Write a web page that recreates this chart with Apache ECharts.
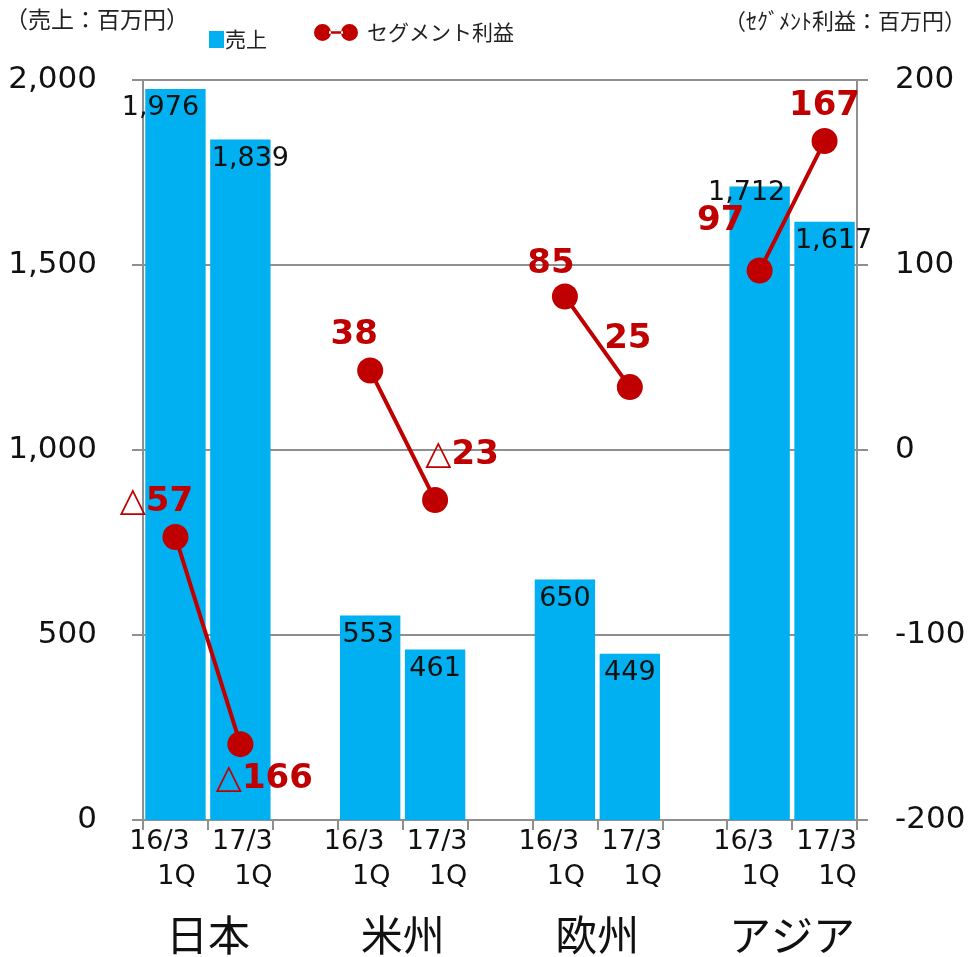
<!DOCTYPE html>
<html>
<head>
<meta charset="utf-8">
<script src="https://cdn.jsdelivr.net/npm/echarts@6/dist/echarts.min.js"></script>
<style>
  html, body { margin: 0; padding: 0; background: #fff; }
  #chart { width: 973px; height: 957px; }
</style>
</head>
<body>
<div id="chart"></div>
<script>
'use strict';
// 区分：各地域 16/3 1Q, 17/3 1Q（地域の間は空欄）
const categories = ['16/3', '17/3', '', '16/3', '17/3', '', '16/3', '17/3', '', '16/3', '17/3'];
const regions = ['', '日本', '', '', '米州', '', '', '欧州', '', '', 'アジア', ''];
// 売上（百万円）
const sales = [1976, 1839, null, 553, 461, null, 650, 449, null, 1712, 1617];
// セグメント利益（図上の位置から読み取り）
const profit = [-47, -159, null, 43, -27, null, 83, 34, null, 97, 167];
const profitLabels = ['△57', '△166', '', '38', '△23', '', '85', '25', '', '97', '167'];
const leftTicks = [0, 2000, 500];
const rightTicks = [-200, 200, 100];

const FONT = '"DejaVu Sans", "Noto Sans CJK JP", sans-serif';
const JP = '"Noto Sans CJK JP", sans-serif';
const BLUE = '#00B0F0';
const RED = '#C00000';
const GRAY = '#8f8f8f';

// ラベルの置き場所（系列の値とは別）
const barLabelShift = [[-15, 0], [10, 0], null, [-2, 0], [0, 0], null, [0, 0], [0, 0], null, [-13, -13], [9, 0]];
const labelPlace = [
    { position: 'top', offset: [-19, 0] },
    { position: 'bottom', offset: [24, 0] },
    null,
    { position: 'top', offset: [-16, 0] },
    { position: 'top', offset: [27, -10] },
    null,
    { position: 'top', offset: [-14, 3] },
    { position: 'top', offset: [-2, -13] },
    null,
    { position: 'top', offset: [-39, -14] },
    { position: 'top', offset: [0, 0] },
];

function init() {
    const chart = echarts.init(document.getElementById('chart'));

    const salesData = sales.map((v, i) => {
        if (v === null) return null;
        return { value: v, label: { offset: barLabelShift[i] } };
    });

    const profitData = profit.map((v, i) => {
        if (v === null) return null;
        const txt = profitLabels[i].replace('△', '{t|△}');
        return {
            value: v,
            label: Object.assign({ formatter: txt }, labelPlace[i]),
        };
    });

    const option = {
        animation: false,
        title: [
            {
                text: '（売上：百万円）',
                left: 0, top: 3,
                textStyle: { fontFamily: JP, fontSize: 23, fontWeight: 'normal', color: '#222' },
            },
            {
                text: '（ｾｸﾞﾒﾝﾄ利益：百万円）',
                right: 2, top: 5,
                textStyle: { fontFamily: JP, fontSize: 22, fontWeight: 'normal', color: '#222' },
            },
        ],
        legend: [
            {
                data: [{ name: '売上', icon: 'rect' }],
                left: 204, top: 24,
                itemWidth: 15, itemHeight: 17, itemGap: 5,
                textStyle: { fontFamily: JP, fontSize: 21, color: '#222', padding: [0, 0, 0, -4] },
            },
            {
                data: [{
                    name: 'セグメント利益',
                    icon: 'path://M0,8.5a8.5,8.5 0 1,0 17,0a8.5,8.5 0 1,0 -17,0zM15,7.2h14v2.6h-14zM27,8.5a8.5,8.5 0 1,0 17,0a8.5,8.5 0 1,0 -17,0z',
                }],
                left: 309, top: 17,
                itemWidth: 44, itemHeight: 17,
                textStyle: { fontFamily: JP, fontSize: 21, color: '#222', padding: [0, 0, 0, 4] },
            },
        ],
        grid: { left: 143, right: 116, top: 80, bottom: 137 },
        xAxis: [
            {
                type: 'category',
                data: categories,
                axisLine: { lineStyle: { color: GRAY, width: 2 } },
                axisTick: { show: true, interval: 0, length: 10, lineStyle: { color: GRAY, width: 2 } },
                axisLabel: {
                    interval: 0,
                    margin: 4,
                    fontFamily: FONT,
                    fontSize: 27,
                    color: '#111',
                    lineHeight: 35,
                    formatter: (v) => {
                        if (!v) return '';
                        if (v === '16/3') return '{a|16/3}\n{c|1Q}';
                        return '{d|17/3}\n{b|1Q}';
                    },
                    rich: {
                        a: { fontFamily: FONT, fontSize: 27, color: '#111', lineHeight: 35, padding: [0, 32, 0, 0] },
                        c: { fontFamily: FONT, fontSize: 27, color: '#111', lineHeight: 35, padding: [0, 0, 0, 2] },
                        d: { fontFamily: FONT, fontSize: 27, color: '#111', lineHeight: 35, padding: [0, 0, 0, 4] },
                        b: { fontFamily: FONT, fontSize: 27, color: '#111', lineHeight: 35, padding: [0, 0, 0, 26] },
                    },
                },
            },
            {
                type: 'category',
                position: 'bottom',
                boundaryGap: false,
                data: regions,
                axisLine: { show: false },
                axisTick: { show: false },
                axisLabel: {
                    interval: 0,
                    margin: 94,
                    fontFamily: JP,
                    fontSize: 42,
                    color: '#111',
                },
            },
        ],
        yAxis: [
            {
                type: 'value',
                min: leftTicks[0],
                max: leftTicks[1],
                interval: leftTicks[2],
                axisLine: { show: true, lineStyle: { color: GRAY, width: 2 } },
                axisTick: { show: true, length: 11, lineStyle: { color: GRAY, width: 2 } },
                splitLine: { lineStyle: { color: GRAY, width: 2 } },
                axisLabel: {
                    margin: 46,
                    fontFamily: FONT,
                    fontSize: 31,
                    color: '#111',
                    formatter: (v) => v.toLocaleString('en-US'),
                },
            },
            {
                type: 'value',
                min: rightTicks[0],
                max: rightTicks[1],
                interval: rightTicks[2],
                axisLine: { show: true, lineStyle: { color: GRAY, width: 2 } },
                axisTick: { show: true, length: 11, lineStyle: { color: GRAY, width: 2 } },
                splitLine: { show: false },
                axisLabel: {
                    margin: 38,
                    fontFamily: FONT,
                    fontSize: 31,
                    color: '#111',
                    align: 'left',
                },
            },
        ],
        series: [
            {
                name: '売上',
                type: 'bar',
                data: salesData,
                barCategoryGap: '7%',
                itemStyle: { color: BLUE },
                label: {
                    show: true,
                    position: 'insideTop',
                    distance: 6,
                    fontFamily: FONT,
                    fontSize: 27,
                    color: '#111',
                    formatter: (p) => p.value.toLocaleString('en-US'),
                },
                z: 2,
            },
            {
                name: 'セグメント利益',
                type: 'line',
                yAxisIndex: 1,
                data: profitData,
                connectNulls: false,
                symbol: 'circle',
                symbolSize: 26,
                itemStyle: { color: RED },
                lineStyle: { color: RED, width: 4 },
                label: {
                    show: true,
                    fontFamily: FONT,
                    fontSize: 34,
                    fontWeight: 'bold',
                    color: RED,
                    rich: {
                        t: { fontFamily: FONT, fontSize: 34, fontWeight: 'normal', color: RED },
                    },
                },
                z: 3,
            },
        ],
    };
    chart.setOption(option);
}

(function () {
    init();
})();
</script>
</body>
</html>
